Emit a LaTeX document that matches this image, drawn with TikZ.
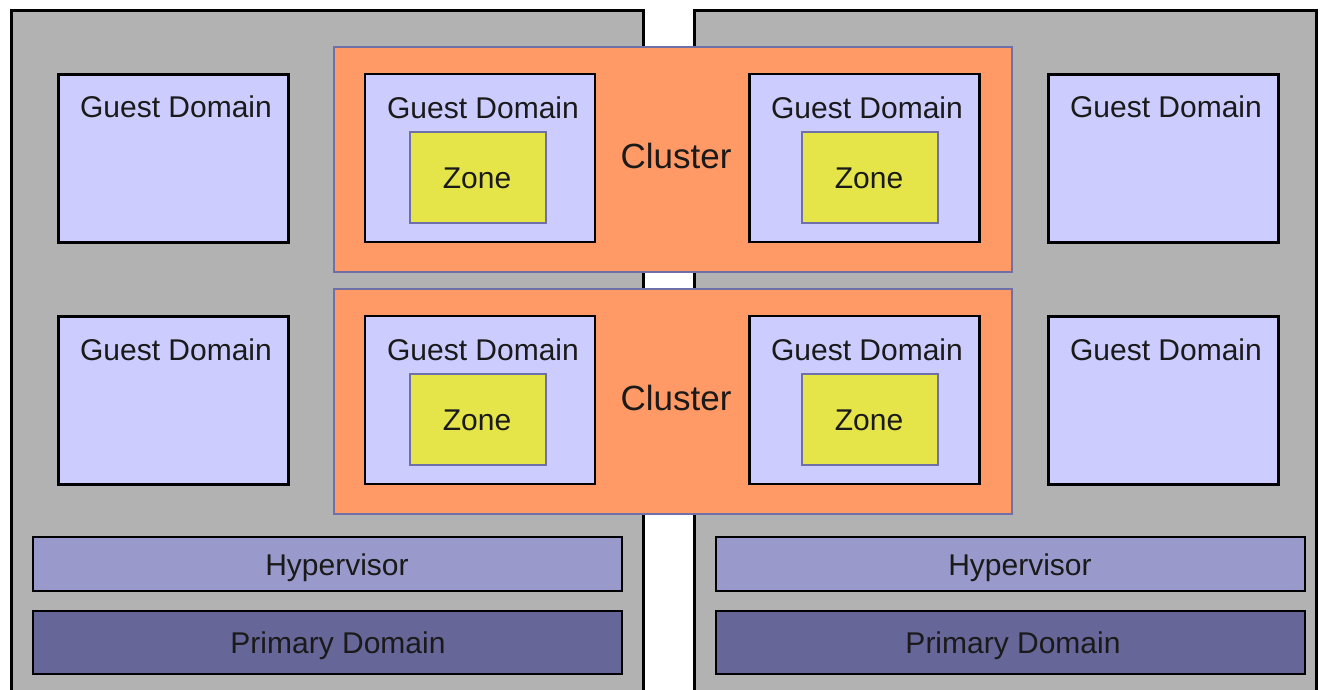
\documentclass[tikz,border=0pt]{standalone}
\usepackage{fontspec}
\setmainfont{Liberation Sans}
\definecolor{servergray}{HTML}{B2B2B2}
\definecolor{clusterorange}{HTML}{FF9966}
\definecolor{guestfill}{HTML}{CCCCFF}
\definecolor{zonefill}{HTML}{E5E54A}
\definecolor{softedge}{HTML}{7070A8}
\definecolor{hyperfill}{HTML}{9999CC}
\definecolor{primaryfill}{HTML}{666699}
\definecolor{ink}{HTML}{1A1A1A}
\tikzset{
  server/.style={fill=servergray, draw=black, line width=3pt},
  cluster/.style={rectangle, fill=clusterorange, draw=softedge, line width=2pt,
    minimum width=678pt, minimum height=225pt, inner sep=0pt, outer sep=0pt},
  guest/.style={rectangle, fill=guestfill, draw=black, line width=2.7pt,
    minimum width=230pt, minimum height=168pt, inner sep=0pt, outer sep=0pt},
  zone/.style={rectangle, fill=zonefill, draw=softedge, line width=2pt,
    minimum width=136pt, minimum height=91pt, inner sep=0pt, outer sep=0pt},
  layer/.style={rectangle, draw=black, line width=2.7pt,
    minimum width=589pt, inner sep=0pt, outer sep=0pt},
  hyper/.style={layer, fill=hyperfill, minimum height=54pt},
  primary/.style={layer, fill=primaryfill, minimum height=63pt},
  txt/.style={font=\fontsize{30}{36}\selectfont, text=ink, inner sep=0pt, anchor=base},
  bigtxt/.style={font=\fontsize{35}{42}\selectfont, text=ink, inner sep=0pt, anchor=base}
}
\begin{document}
\begin{tikzpicture}[x=1pt,y=-1pt]
  \useasboundingbox (0,0) rectangle (1325,690);
  \fill[white] (0,0) rectangle (1325,690);
  \begin{scope}
    \clip (0,0) rectangle (1325,690);
    % the two physical servers, running off the bottom edge
    \draw[server] (11,720) -- (11,11) -- (643,11) -- (643,720);
    \draw[server] (694,720) -- (694,11) -- (1316,11) -- (1316,720);
  \end{scope}

  % clusters spanning both servers
  \node[cluster] (c1) at (673,159.5) {};
  \node[cluster] (c2) at (673,401.5) {};
  \node[bigtxt] at (676,168) {Cluster};
  \node[bigtxt] at (676,410) {Cluster};

  % guest domains, top row
  \node[guest] (g11) at (173.5,158.5) {};
  \node[guest] (g12) at (480,158) {};
  \node[guest] (g13) at (864.5,158) {};
  \node[guest] (g14) at (1163.5,158.5) {};
  % guest domains, bottom row
  \node[guest] (g21) at (173.5,400.5) {};
  \node[guest] (g22) at (480,400) {};
  \node[guest] (g23) at (864.5,400) {};
  \node[guest] (g24) at (1163.5,400.5) {};

  \node[txt] at (176,118) {Guest Domain};
  \node[txt] at (483,118.5) {Guest Domain};
  \node[txt] at (867,118.5) {Guest Domain};
  \node[txt] at (1166,118) {Guest Domain};
  \node[txt] at (176,360) {Guest Domain};
  \node[txt] at (483,360.5) {Guest Domain};
  \node[txt] at (867,360.5) {Guest Domain};
  \node[txt] at (1166,360) {Guest Domain};

  % zones inside the clustered guests
  \node[zone] (z12) at (478,177.5) {};
  \node[zone] (z13) at (869.5,177.5) {};
  \node[zone] (z22) at (478,419.5) {};
  \node[zone] (z23) at (869.5,419.5) {};
  \node[txt] at (477,188) {Zone};
  \node[txt] at (869,188) {Zone};
  \node[txt] at (477,430) {Zone};
  \node[txt] at (869,430) {Zone};

  % hypervisor and primary domain layers
  \node[hyper] (h1) at (327.5,564) {};
  \node[hyper] (h2) at (1010.5,564) {};
  \node[primary] (p1) at (327.5,642.5) {};
  \node[primary] (p2) at (1010.5,642.5) {};
  \node[txt] at (337,575) {Hypervisor};
  \node[txt] at (1020,575) {Hypervisor};
  \node[txt] at (338,653) {Primary Domain};
  \node[txt] at (1013,653) {Primary Domain};
\end{tikzpicture}
\end{document}
